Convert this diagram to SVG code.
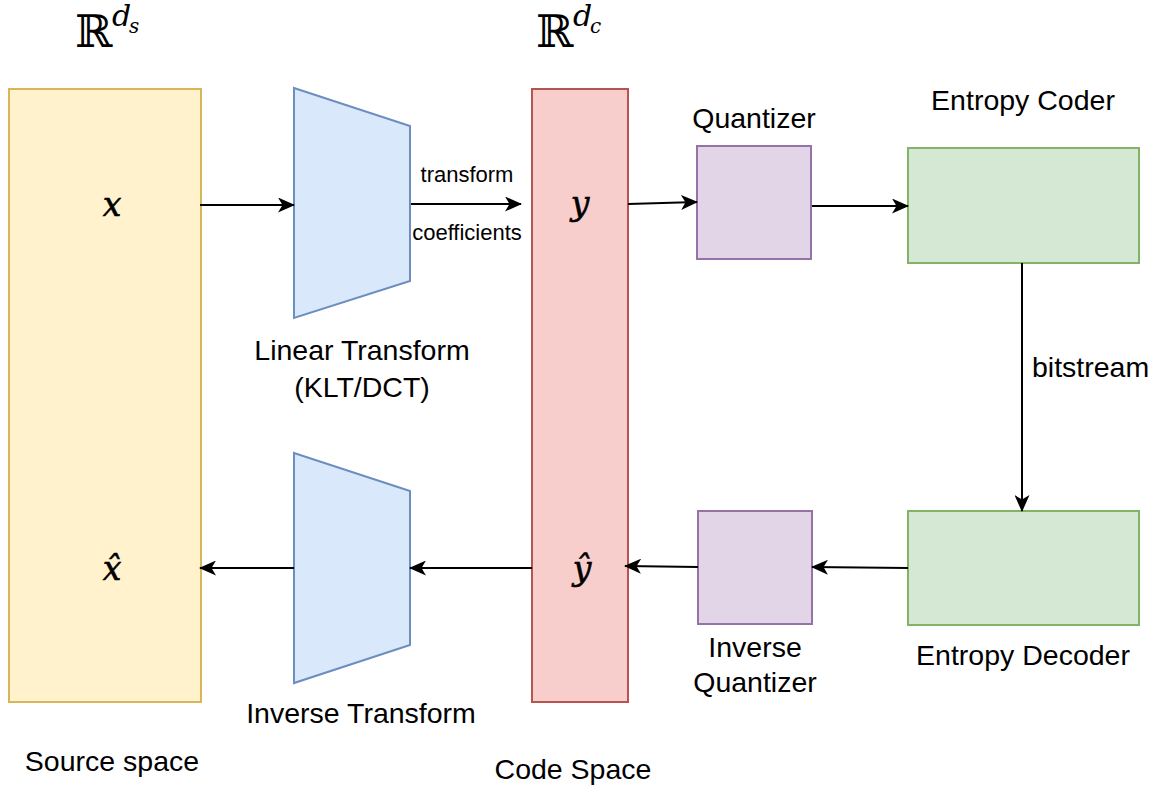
<svg xmlns="http://www.w3.org/2000/svg" width="1161" height="788" viewBox="0 0 1161 788">
  <style>
    .lbl { font-family: "Liberation Sans", Arial, sans-serif; font-size: 28.5px; fill: #000; }
    .small { font-family: "Liberation Sans", Arial, sans-serif; font-size: 22px; fill: #000; }
    .math { font-family: "DejaVu Serif", "Liberation Serif", serif; font-style: italic; fill: #000; }
    .var { font-size: 33px; stroke: #000; stroke-width: 0.6; }
    .bb { font-family: "DejaVu Serif", "Liberation Serif", serif; fill: #000; }
    .edge { fill: none; stroke: #000; stroke-width: 2; }
    .src { fill: #fff2cc; stroke: #d6b656; stroke-width: 2; }
    .code { fill: #f8cecc; stroke: #b85450; stroke-width: 2; }
    .xf { fill: #dae8fc; stroke: #6c8ebf; stroke-width: 2; }
    .quant { fill: #e1d5e7; stroke: #9673a6; stroke-width: 2; }
    .ent { fill: #d5e8d4; stroke: #82b366; stroke-width: 2; }
  </style>
  <defs>
    <marker id="arrow" markerUnits="userSpaceOnUse" markerWidth="17" markerHeight="15" refX="16" refY="7.5" orient="auto">
      <path d="M0,0 L17,7.5 L0,15 L4.5,7.5 z" fill="#000"/>
    </marker>
  </defs>

  <rect width="1161" height="788" fill="#fff"/>

  <!-- source space -->
  <g id="source-space">
    <rect class="src" x="9" y="89" width="192" height="613"/>
    <text class="bb" x="75" y="47" font-size="45">ℝ</text>
    <text class="math" x="112" y="26" font-size="30">d</text>
    <text class="math" x="129" y="33" font-size="20">s</text>
    <text class="math var" x="112" y="216" text-anchor="middle">x</text>
    <text class="math var" x="112" y="580" text-anchor="middle">x̂</text>
    <text class="lbl" x="112" y="771" text-anchor="middle">Source space</text>
  </g>

  <!-- forward transform -->
  <g id="linear-transform">
    <polygon class="xf" points="294,88 410,126 410,281 294,318"/>
    <text class="lbl" x="362" y="360" text-anchor="middle">Linear Transform</text>
    <text class="lbl" x="362" y="397" text-anchor="middle">(KLT/DCT)</text>
  </g>

  <!-- inverse transform -->
  <g id="inverse-transform">
    <polygon class="xf" points="294,453 410,491 410,645 294,683"/>
    <text class="lbl" x="361" y="723" text-anchor="middle">Inverse Transform</text>
  </g>

  <!-- code space -->
  <g id="code-space">
    <rect class="code" x="532" y="89" width="96" height="613"/>
    <text class="bb" x="536" y="47" font-size="45">ℝ</text>
    <text class="math" x="573" y="26" font-size="30">d</text>
    <text class="math" x="590" y="33" font-size="20">c</text>
    <text class="math var" x="580" y="215" text-anchor="middle">y</text>
    <text class="math var" x="582" y="580" text-anchor="middle">ŷ</text>
    <text class="lbl" x="573" y="779" text-anchor="middle">Code Space</text>
  </g>

  <!-- quantizer -->
  <g id="quantizer">
    <rect class="quant" x="697" y="146" width="114" height="113"/>
    <text class="lbl" x="754" y="128" text-anchor="middle">Quantizer</text>
  </g>

  <!-- inverse quantizer -->
  <g id="inverse-quantizer">
    <rect class="quant" x="698" y="511" width="114" height="113"/>
    <text class="lbl" x="755" y="657" text-anchor="middle">Inverse</text>
    <text class="lbl" x="755" y="692" text-anchor="middle">Quantizer</text>
  </g>

  <!-- entropy coder -->
  <g id="entropy-coder">
    <rect class="ent" x="908" y="148" width="231" height="115"/>
    <text class="lbl" x="1023" y="110" text-anchor="middle">Entropy Coder</text>
  </g>

  <!-- entropy decoder -->
  <g id="entropy-decoder">
    <rect class="ent" x="908" y="511" width="231" height="114"/>
    <text class="lbl" x="1023" y="665" text-anchor="middle">Entropy Decoder</text>
  </g>

  <!-- connectors -->
  <g id="connectors">
    <path class="edge" d="M200,205 L294,205" marker-end="url(#arrow)"/>
    <path class="edge" d="M411,204 L521,204" marker-end="url(#arrow)"/>
    <text class="small" x="467" y="182" text-anchor="middle">transform</text>
    <text class="small" x="467" y="240" text-anchor="middle">coefficients</text>
    <path class="edge" d="M628,204 L697,202" marker-end="url(#arrow)"/>
    <path class="edge" d="M812,206 L908,206" marker-end="url(#arrow)"/>
    <path class="edge" d="M1022,263 L1022,511" marker-end="url(#arrow)"/>
    <text class="lbl" x="1032" y="377">bitstream</text>
    <path class="edge" d="M908,568 L812,567" marker-end="url(#arrow)"/>
    <path class="edge" d="M698,567 L625,566" marker-end="url(#arrow)"/>
    <path class="edge" d="M532,568 L410,568" marker-end="url(#arrow)"/>
    <path class="edge" d="M294,568 L200,568" marker-end="url(#arrow)"/>
  </g>
</svg>
